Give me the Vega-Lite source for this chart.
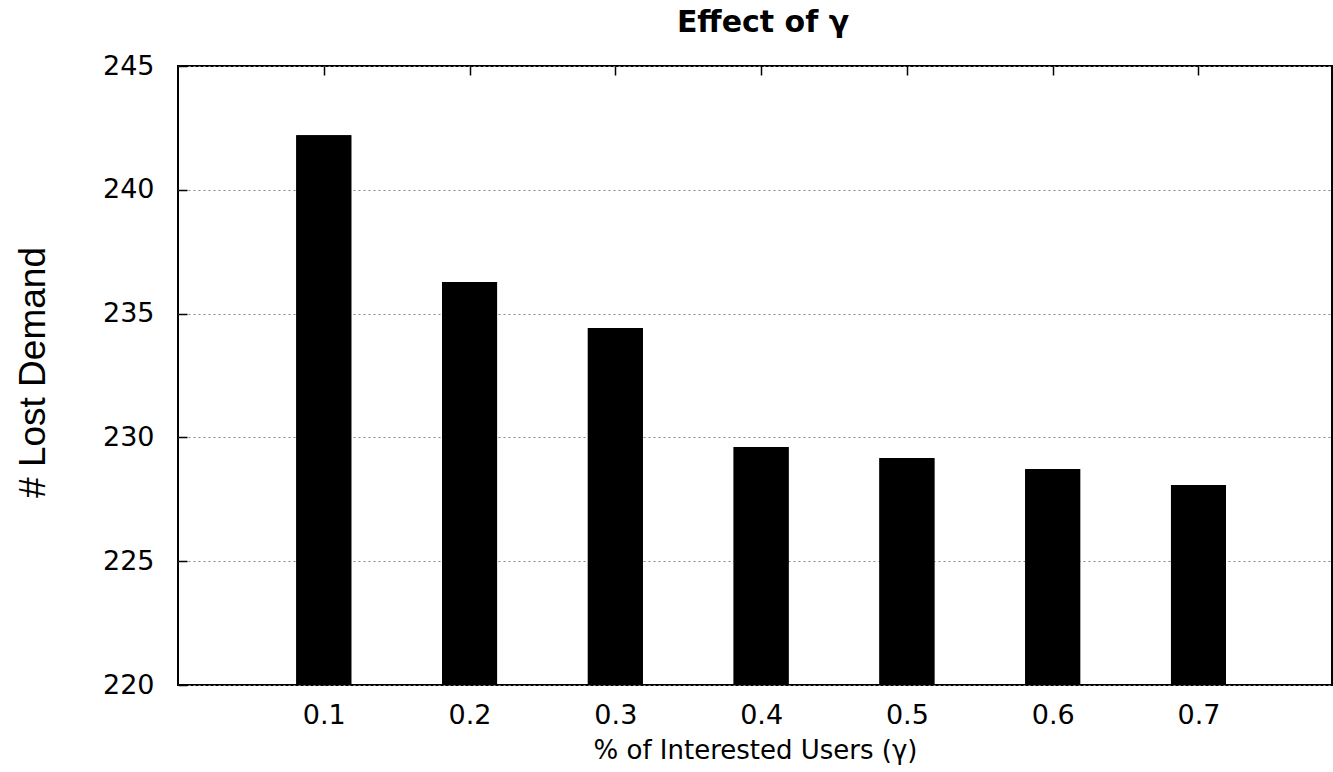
{
  "$schema": "https://vega.github.io/schema/vega-lite/v6.json",
  "width": 1154,
  "height": 619,
  "autosize": {"type": "none"},
  "padding": {"left": 178, "top": 66, "right": 1, "bottom": 87},
  "background": "white",
  "config": {
    "view": {"stroke": "black", "strokeWidth": 2},
    "font": "DejaVu Sans"
  },
  "title": {
    "text": "Effect of γ",
    "font": "DejaVu Sans",
    "fontSize": 30,
    "fontWeight": "bold",
    "color": "black",
    "offset": 14,
    "anchor": "middle",
    "dx": 8
  },
  "data": {
    "values": [
      {"gamma": 0.1, "lost": 242.2},
      {"gamma": 0.2, "lost": 236.28},
      {"gamma": 0.3, "lost": 234.42},
      {"gamma": 0.4, "lost": 229.61},
      {"gamma": 0.5, "lost": 229.17},
      {"gamma": 0.6, "lost": 228.72},
      {"gamma": 0.7, "lost": 228.08}
    ]
  },
  "resolve": {"axis": {"x": "independent"}},
  "layer": [
    {
      "mark": {"type": "bar", "color": "black", "width": 55, "clip": true},
      "encoding": {
        "x": {
          "field": "gamma",
          "type": "quantitative",
          "scale": {"domain": [0, 0.7916], "nice": false, "zero": false, "padding": 0},
          "axis": {
            "orient": "bottom",
            "values": [0.1, 0.2, 0.3, 0.4, 0.5, 0.6, 0.7],
            "format": ".1f",
            "grid": false,
            "domain": false,
            "labelFlush": false,
            "tickSize": -9,
            "tickColor": "black",
            "tickWidth": 1.5,
            "labelPadding": 26,
            "labelFontSize": 27,
            "labelColor": "black",
            "labelFont": "DejaVu Sans",
            "title": "% of Interested Users (γ)",
            "titleFontSize": 26,
            "titleFontWeight": "normal",
            "titleColor": "black",
            "titleFont": "DejaVu Sans",
            "titleY": 73,
            "titleBaseline": "alphabetic"
          }
        },
        "y": {
          "field": "lost",
          "type": "quantitative",
          "scale": {"domain": [220, 245], "nice": false, "zero": false},
          "axis": {
            "values": [220, 225, 230, 235, 240, 245],
            "grid": true,
            "gridColor": "#888888",
            "gridDash": [2, 3],
            "gridWidth": 1,
            "domain": false,
            "tickSize": -9,
            "tickColor": "black",
            "tickWidth": 1.5,
            "labelPadding": 33,
            "labelFontSize": 27,
            "labelColor": "black",
            "labelFont": "DejaVu Sans",
            "title": "# Lost Demand",
            "titleFont": "Liberation Sans",
            "titleFontSize": 37,
            "titleFontWeight": "normal",
            "titleColor": "black",
            "titleX": -145,
            "titleY": 306,
            "titleAngle": -90,
            "titleAlign": "center",
            "titleBaseline": "middle"
          }
        }
      }
    },
    {
      "mark": {"type": "bar", "color": "black", "width": 55, "clip": true},
      "encoding": {
        "x": {
          "field": "gamma",
          "type": "quantitative",
          "axis": {
            "orient": "top",
            "values": [0.1, 0.2, 0.3, 0.4, 0.5, 0.6, 0.7],
            "grid": false,
            "domain": false,
            "labels": false,
            "tickSize": -9,
            "tickColor": "black",
            "tickWidth": 1.5,
            "title": null
          }
        },
        "y": {"field": "lost", "type": "quantitative"}
      }
    }
  ]
}
